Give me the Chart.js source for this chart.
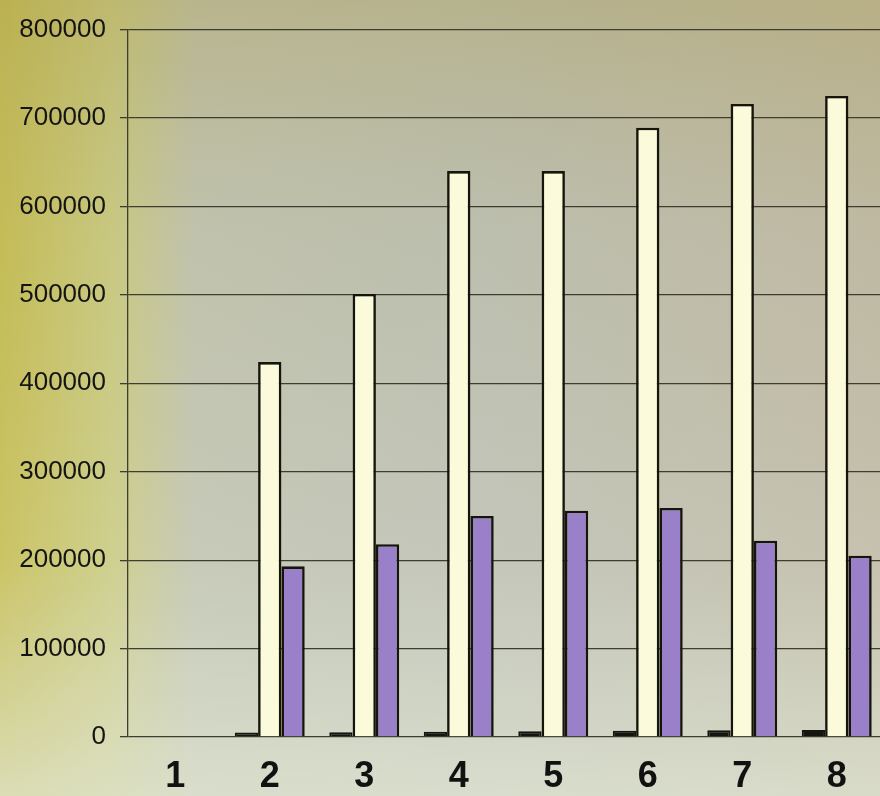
<!DOCTYPE html>
<html>
<head>
<meta charset="utf-8">
<script src="https://cdn.jsdelivr.net/npm/chart.js@4.4.1/dist/chart.umd.min.js"></script>
<style>
  html, body { margin: 0; padding: 0; width: 880px; height: 796px; overflow: hidden; }
  #wrap { position: relative; width: 880px; height: 796px; overflow: hidden; }
  #c { display: block; }
</style>
</head>
<body>
<div id="wrap"><canvas id="c" width="884" height="796"></canvas></div>
<script>
const categories = ['1', '2', '3', '4', '5', '6', '7', '8'];
const seriesDark  = [null, 5000, 5500, 6000, 6500, 7000, 7500, 8000];
const seriesCream = [null, 424000, 501000, 640000, 640000, 689000, 716000, 725000];
const seriesPurple = [null, 193000, 218000, 250000, 256000, 259000, 222000, 205000];
const yTicks = [0, 100000, 200000, 300000, 400000, 500000, 600000, 700000, 800000];

const bgPlugin = {
  id: 'bg',
  beforeDraw(chart) {
    const ctx = chart.ctx, w = chart.width, h = chart.height;
    ctx.save();
    let g = ctx.createLinearGradient(0, 0, w, 0);
    g.addColorStop(0, '#c8bf52');
    g.addColorStop(0.13, '#cccd84');
    g.addColorStop(0.22, '#c3c6b4');
    g.addColorStop(0.55, '#bfc2b6');
    g.addColorStop(1, '#c2bca8');
    ctx.fillStyle = g;
    ctx.fillRect(0, 0, w, h);
    let v = ctx.createLinearGradient(0, 0, 0, h);
    v.addColorStop(0, 'rgba(168,155,80,0.40)');
    v.addColorStop(0.3, 'rgba(170,165,120,0.12)');
    v.addColorStop(0.7, 'rgba(220,225,210,0.15)');
    v.addColorStop(1, 'rgba(225,230,212,0.75)');
    ctx.fillStyle = v;
    ctx.fillRect(0, 0, w, h);
    ctx.restore();
  }
};

new Chart(document.getElementById('c'), {
  type: 'bar',
  data: {
    labels: categories,
    datasets: [
      { label: 'A', data: seriesDark, backgroundColor: '#151510', borderColor: '#151510', borderWidth: 2 },
      { label: 'B', data: seriesCream, backgroundColor: '#fbfbdc', borderColor: '#15150c', borderWidth: 2.6 },
      { label: 'C', data: seriesPurple, backgroundColor: '#9a80c8', borderColor: '#15150c', borderWidth: 2.6 }
    ]
  },
  options: {
    responsive: false,
    animation: false,
    devicePixelRatio: 1,
    layout: { padding: { top: 26, right: 0, left: 0, bottom: 0 } },
    plugins: { legend: { display: false }, tooltip: { enabled: false } },
    datasets: { bar: { categoryPercentage: 0.74, barPercentage: 1.0 } },
    scales: {
      x: {
        grid: { display: false, drawTicks: false },
        border: { display: false },
        ticks: { color: '#111', font: { family: 'Liberation Sans, Arial, sans-serif', size: 36, weight: 'bold' }, padding: 18 },
        afterFit(scale) { scale.height = 59; }
      },
      y: {
        min: 0, max: 800000,
        afterBuildTicks(scale) { scale.ticks = yTicks.map(v => ({ value: v })); },
        grid: { color: '#3e3e30', lineWidth: 1.3, tickLength: 8, drawTicks: true },
        border: { display: true, color: '#3e3e30', width: 1.3 },
        ticks: { color: '#141414', font: { family: 'Liberation Sans, Arial, sans-serif', size: 26 }, padding: 14,
                 callback: (v) => String(v) },
        afterFit(scale) { scale.width = 128; }
      }
    }
  },
  plugins: [bgPlugin]
});
</script>
</body>
</html>
